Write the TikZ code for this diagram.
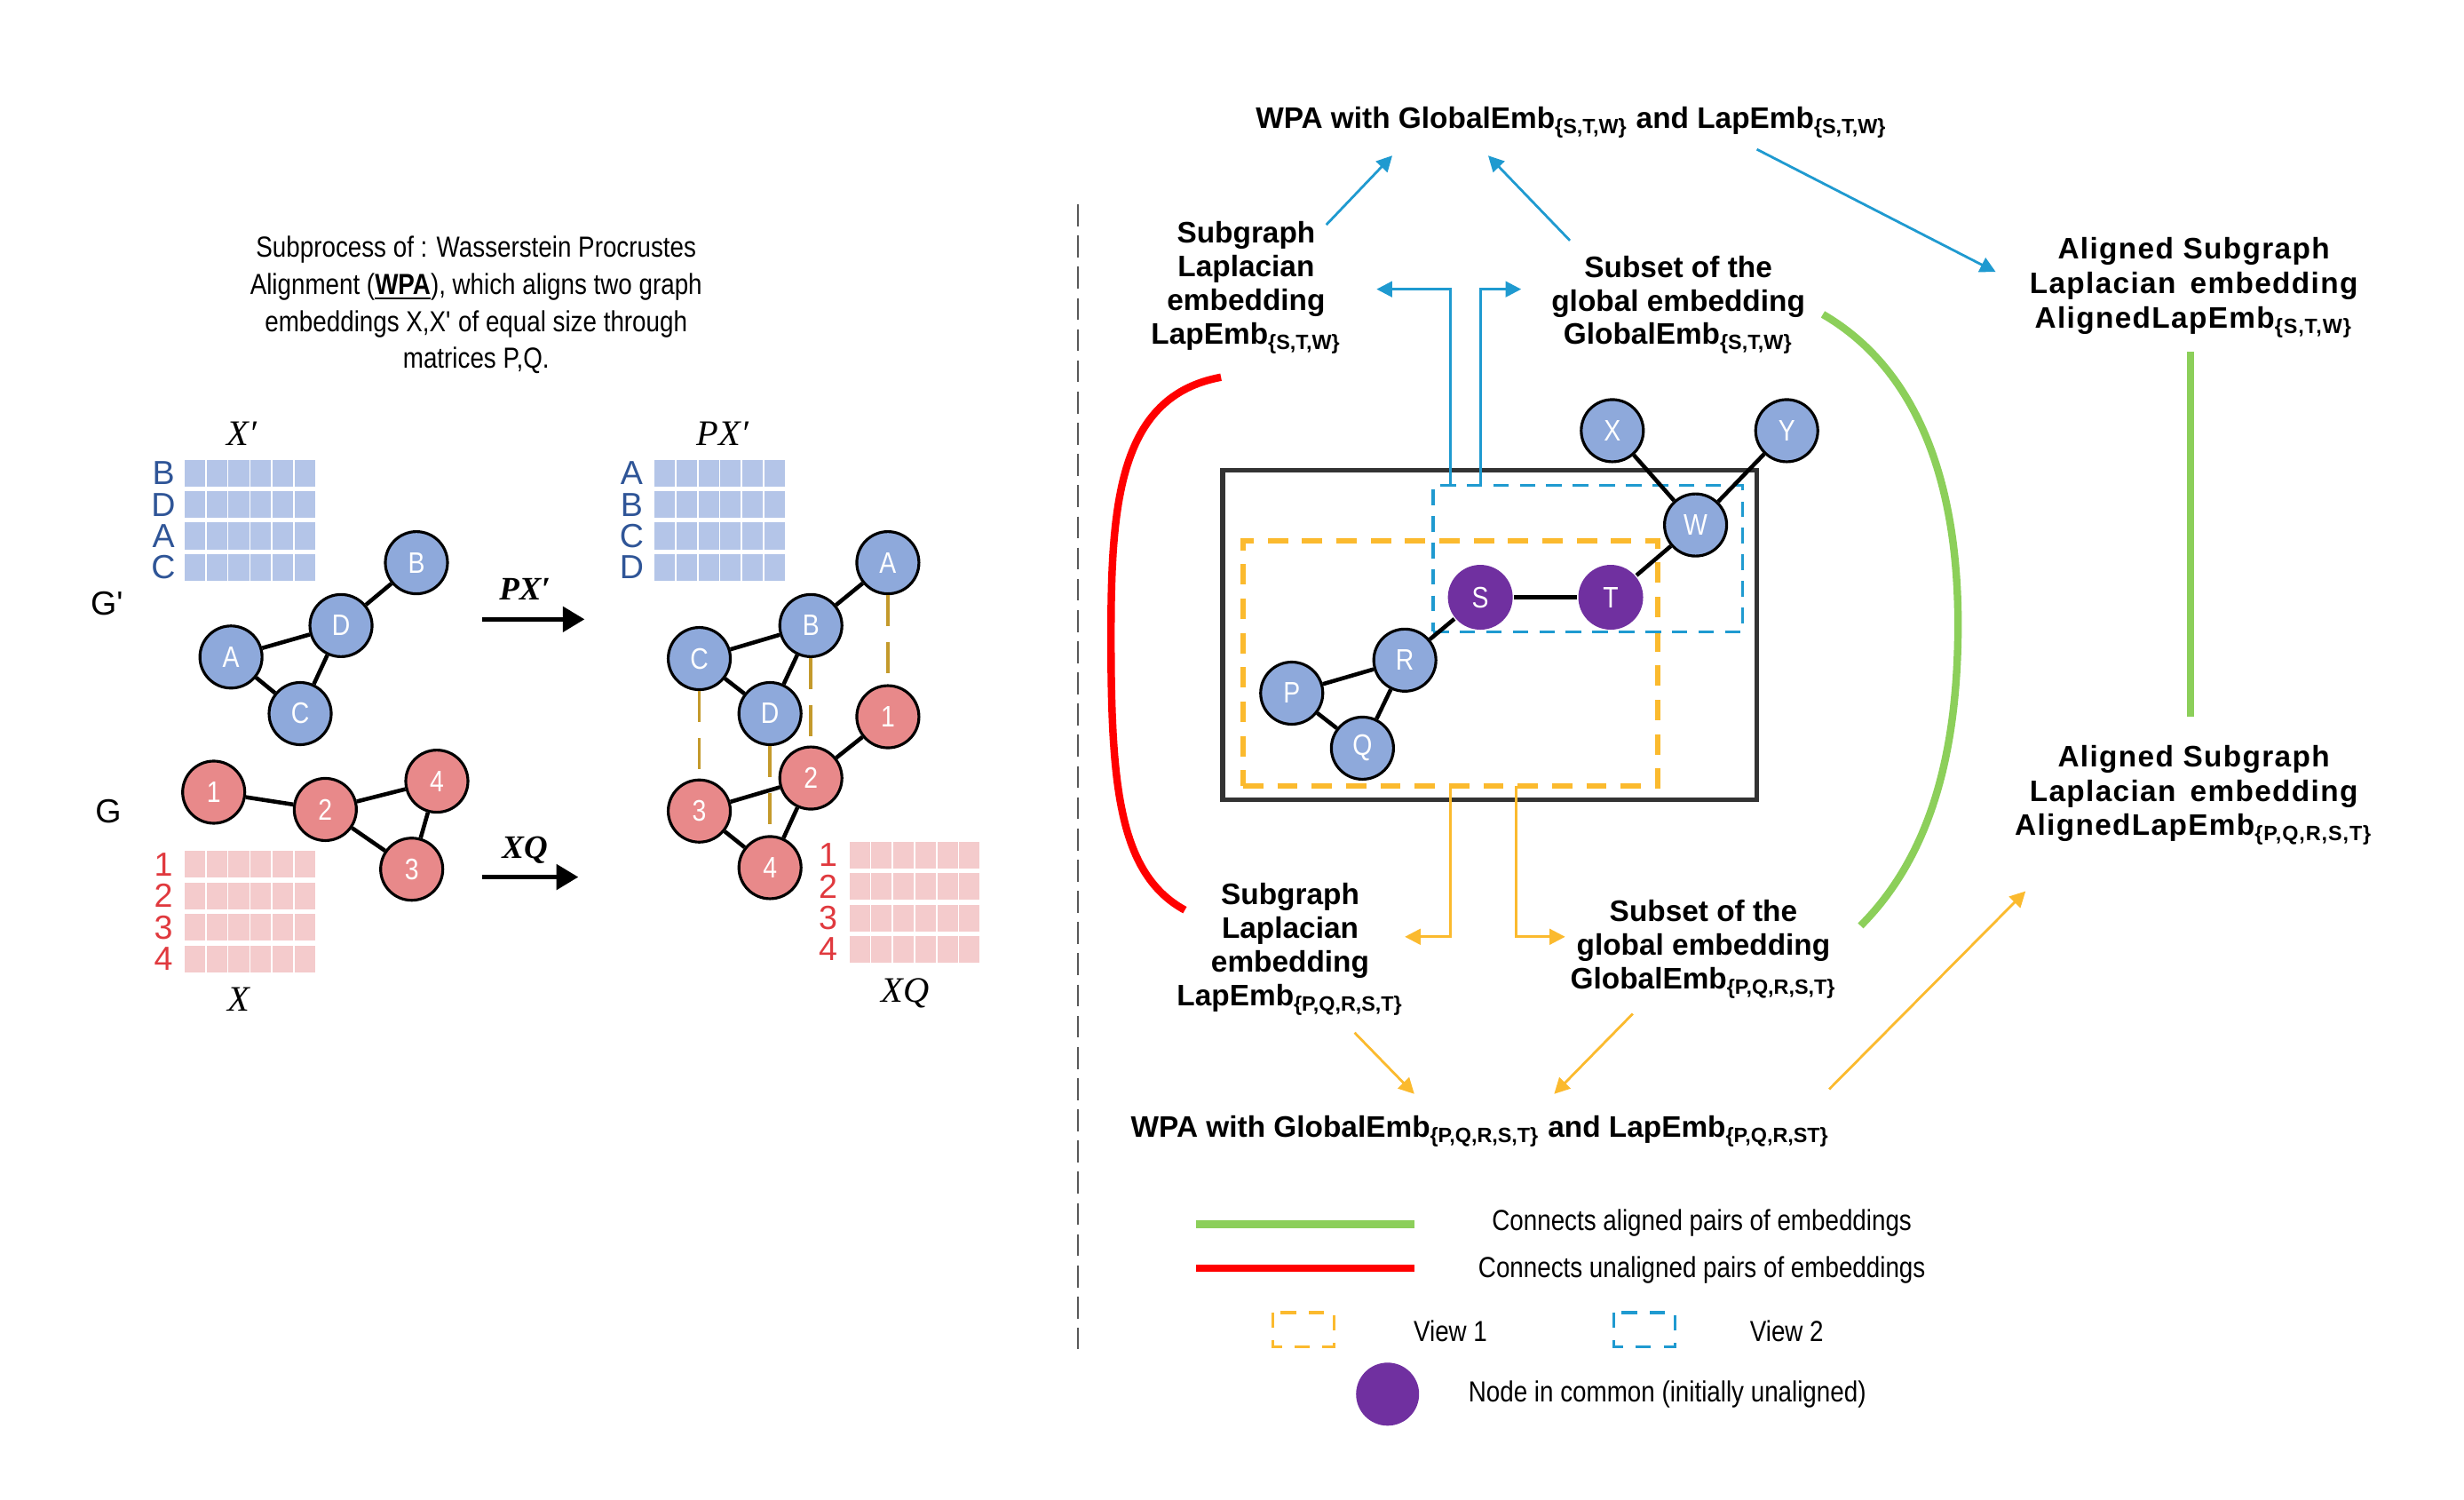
\documentclass[tikz,border=0pt]{standalone}
\usepackage{fontspec}
\setmainfont{Liberation Sans}
\newfontfamily\narrowfont[FakeStretch=0.85]{Liberation Sans}
\newfontfamily\spacedfont[LetterSpace=4]{Liberation Sans}
\newfontfamily\timesfont{Liberation Serif}
\usetikzlibrary{arrows.meta}

\definecolor{nodeblue}{HTML}{8EA9DB}
\definecolor{nodered}{HTML}{E8898A}
\definecolor{matblue}{HTML}{B4C5E8}
\definecolor{matred}{HTML}{F4CBCC}
\definecolor{lblblue}{HTML}{2F5597}
\definecolor{lblred}{HTML}{E0393E}
\definecolor{wpagold}{HTML}{C49A2C}
\definecolor{viewone}{HTML}{FBBA2E}
\definecolor{viewtwo}{HTML}{1F9AD0}
\definecolor{alignedgreen}{HTML}{8CCF5A}
\definecolor{unalignedred}{HTML}{FF0000}
\definecolor{commonpurple}{HTML}{7030A0}

\newcommand{\nodelabelfont}{\narrowfont\fontsize{9.5}{10}\selectfont}
\newcommand{\embmatrix}[3]{%
  \foreach \row in {0,...,3}
    \foreach \col in {0,...,5}
      \filldraw[fill=#3, draw=white, line width=0.5pt] ({#1+14*\col},{#2+20*\row}) rectangle +(14,18);}

\begin{document}
\begin{tikzpicture}[x=0.017698cm, y=-0.017698cm,
  bnode/.style={circle, draw, line width=0.9pt, fill=nodeblue, text=white,
    minimum size=0.7cm, inner sep=0pt, font=\nodelabelfont},
  rnode/.style={bnode, fill=nodered},
  cnode/.style={bnode, draw=none, fill=commonpurple, minimum size=0.73cm},
  link/.style={line width=1.3pt},
  pairlink/.style={wpagold, line width=1pt, dash pattern=on 10pt off 5pt},
  rowlbl/.style={inner sep=0pt, font=\fontsize{10.7}{11}\selectfont},
  matlbl/.style={inner sep=0pt, font=\timesfont\itshape\fontsize{11.5}{12}\selectfont},
  arrlbl/.style={inner sep=0pt, font=\timesfont\bfseries\itshape\fontsize{10.5}{11}\selectfont},
  bigarrow/.style={-{Triangle[length=7pt,width=8pt]}, line width=1.4pt},
  plain/.style={inner sep=0pt, font=\narrowfont\fontsize{9.3}{11.9}\selectfont},
  embtext/.style={align=center, inner sep=0pt, font=\bfseries\fontsize{9.5}{10.8}\selectfont},
  alignedtext/.style={align=center, inner sep=0pt, font=\spacedfont\bfseries\fontsize{9.5}{11}\selectfont},
  bluearrow/.style={viewtwo, line width=0.8pt, -{Triangle[length=5pt,width=5pt]}},
  orangearrow/.style={viewone, line width=0.8pt, -{Triangle[length=5pt,width=5pt]}},
  viewonebox/.style={draw=viewone, line width=1.6pt, dash pattern=on 6.5pt off 4.5pt,
    inner sep=0pt},
  viewtwobox/.style={draw=viewtwo, line width=0.9pt, dash pattern=on 5pt off 3.5pt,
    inner sep=0pt},
  thickline/.style={line width=2.4pt, line cap=butt}]

  \useasboundingbox (0,0) rectangle (1568,954);

  \node[plain, align=center] (desc) at (303,194)
    {Subprocess of : Wasserstein Procrustes\\
     Alignment (\underline{\textbf{WPA}}), which aligns two graph\\
     embeddings X,X\textquotesingle{} of equal size through\\
     matrices P,Q.};

  \embmatrix{117}{292}{matblue}
  \embmatrix{416}{292}{matblue}
  \embmatrix{117}{541}{matred}
  \embmatrix{540}{535}{matred}

  \node[matlbl] (xplbl) at (154,276) {X′};
  \node[matlbl] (pxplbl) at (460,276) {PX′};
  \node[matlbl] (xlbl) at (152,636) {X};
  \node[matlbl] (xqlbl) at (576,632) {XQ};

  \node[rowlbl, lblblue] (xpB) at (104,301) {B};
  \node[rowlbl, lblblue] (xpD) at (104,321) {D};
  \node[rowlbl, lblblue] (xpA) at (104,341) {A};
  \node[rowlbl, lblblue] (xpC) at (104,361) {C};
  \node[rowlbl, lblblue] (pxpA) at (402,301) {A};
  \node[rowlbl, lblblue] (pxpB) at (402,321) {B};
  \node[rowlbl, lblblue] (pxpC) at (402,341) {C};
  \node[rowlbl, lblblue] (pxpD) at (402,361) {D};
  \node[rowlbl, lblred] (x1) at (104,550) {1};
  \node[rowlbl, lblred] (x2) at (104,570) {2};
  \node[rowlbl, lblred] (x3) at (104,590) {3};
  \node[rowlbl, lblred] (x4) at (104,610) {4};
  \node[rowlbl, lblred] (xq1) at (527,544) {1};
  \node[rowlbl, lblred] (xq2) at (527,564) {2};
  \node[rowlbl, lblred] (xq3) at (527,584) {3};
  \node[rowlbl, lblred] (xq4) at (527,604) {4};

  \node[rowlbl] (gplbl) at (68,384) {G\textquotesingle};
  \node[rowlbl] (glbl) at (69,516) {G};

  \node[bnode] (gA) at (147,418) {A};
  \node[bnode] (gD) at (217,398) {D};
  \node[bnode] (gB) at (265,358) {B};
  \node[bnode] (gC) at (191,454) {C};
  \draw[link] (gA) -- (gD);
  \draw[link] (gD) -- (gB);
  \draw[link] (gA) -- (gC);
  \draw[link] (gC) -- (gD);

  \node[rnode] (g1) at (136,504) {1};
  \node[rnode] (g2) at (207,515) {2};
  \node[rnode] (g4) at (278,497) {4};
  \node[rnode] (g3) at (262,553) {3};
  \draw[link] (g1) -- (g2);
  \draw[link] (g2) -- (g4);
  \draw[link] (g4) -- (g3);
  \draw[link] (g2) -- (g3);

  \coordinate (pxfrom) at (307,394);
  \coordinate (pxto) at (372,394);
  \coordinate (xqfrom) at (307,558);
  \coordinate (xqto) at (368,558);
  \draw[bigarrow] (pxfrom) -- (pxto);
  \draw[bigarrow] (xqfrom) -- (xqto);
  \node[arrlbl] (pxarr) at (334,375) {PX′};
  \node[arrlbl] (xqarr) at (334,541) {XQ};

  \node[bnode] (rA) at (565,358) {A};
  \node[bnode] (rB) at (516,398) {B};
  \node[bnode] (rC) at (445,419) {C};
  \node[bnode] (rD) at (490,454) {D};
  \node[rnode] (r1) at (565,456) {1};
  \node[rnode] (r2) at (516,495) {2};
  \node[rnode] (r3) at (445,516) {3};
  \node[rnode] (r4) at (490,552) {4};
  \draw[pairlink] (rA) -- (r1);
  \draw[pairlink] (rB) -- (r2);
  \draw[pairlink] (rC) -- (r3);
  \draw[pairlink] (rD) -- (r4);
  \draw[link] (rB) -- (rA);
  \draw[link] (rC) -- (rB);
  \draw[link] (rC) -- (rD);
  \draw[link] (rD) -- (rB);
  \draw[link] (r1) -- (r2);
  \draw[link] (r2) -- (r3);
  \draw[link] (r3) -- (r4);
  \draw[link] (r4) -- (r2);

  \draw[gray!70!black, line width=0.8pt, dash pattern=on 7pt off 3pt] (686,130) -- (686,858);

  \node[embtext] (wpastw) at (1000,78)
    {WPA with GlobalEmb\textsubscript{\{S,T,W\}} and LapEmb\textsubscript{\{S,T,W\}}};
  \node[embtext] (lapstw) at (793,183)
    {Subgraph\\Laplacian\\embedding\\LapEmb\textsubscript{\{S,T,W\}}};
  \node[embtext] (globstw) at (1068,194)
    {Subset of the\\global embedding\\GlobalEmb\textsubscript{\{S,T,W\}}};
  \node[alignedtext] (alstw) at (1396,183)
    {Aligned Subgraph\\Laplacian\, embedding\\AlignedLapEmb\textsubscript{\{S,T,W\}}};
  \node[alignedtext] (alpqrst) at (1396,506)
    {Aligned Subgraph\\Laplacian\, embedding\\AlignedLapEmb\textsubscript{\{P,Q,R,S,T\}}};
  \node[embtext] (lappqrst) at (821,604)
    {Subgraph\\Laplacian\\embedding\\LapEmb\textsubscript{\{P,Q,R,S,T\}}};
  \node[embtext] (globpqrst) at (1084,604)
    {Subset of the\\global embedding\\GlobalEmb\textsubscript{\{P,Q,R,S,T\}}};
  \node[embtext] (wpapqrst) at (942,720)
    {WPA with GlobalEmb\textsubscript{\{P,Q,R,S,T\}} and LapEmb\textsubscript{\{P,Q,R,ST\}}};

  \node[draw=black!80, line width=1.5pt, minimum width=6.017cm, minimum height=3.717cm,
    inner sep=0pt] (frame) at (948,404) {};
  \node[viewonebox, minimum width=4.672cm, minimum height=2.761cm] (view1) at (923,422) {};
  \node[viewtwobox, minimum width=3.487cm, minimum height=1.646cm] (view2) at (1010.5,355.5) {};

  \node[bnode] (X) at (1026,274) {X};
  \node[bnode] (Y) at (1137,274) {Y};
  \node[bnode] (W) at (1079,334) {W};
  \node[cnode] (S) at (942,380) {S};
  \node[cnode] (T) at (1025,380) {T};
  \node[bnode] (R) at (894,420) {R};
  \node[bnode] (P) at (822,441) {P};
  \node[bnode] (Q) at (867,476) {Q};
  \draw[link] (X) -- (W);
  \draw[link] (Y) -- (W);
  \draw[link] (W) -- (T);
  \draw[link] (S) -- (T);
  \draw[link] (S) -- (R);
  \draw[link] (R) -- (P);
  \draw[link] (R) -- (Q);
  \draw[link] (P) -- (Q);

  \coordinate (v2left) at (923,309);
  \coordinate (v2right) at (942,309);
  \coordinate (lapstwin) at (876,184);
  \coordinate (globstwin) at (968,184);
  \draw[bluearrow] (v2left) |- (lapstwin);
  \draw[bluearrow] (v2right) |- (globstwin);

  \coordinate (v1left) at (923,500);
  \coordinate (v1right) at (965,500);
  \coordinate (lappqrstin) at (894,596);
  \coordinate (globpqrstin) at (996,596);
  \draw[orangearrow] (v1left) |- (lappqrstin);
  \draw[orangearrow] (v1right) |- (globpqrstin);

  \coordinate (lapstwout) at (844,143);
  \coordinate (wpastwinl) at (886,99);
  \coordinate (globstwout) at (999,153);
  \coordinate (wpastwinr) at (947,99);
  \coordinate (wpastwout) at (1118,95);
  \coordinate (alstwin) at (1270,173);
  \draw[bluearrow] (lapstwout) -- (wpastwinl);
  \draw[bluearrow] (globstwout) -- (wpastwinr);
  \draw[bluearrow] (wpastwout) -- (alstwin);

  \coordinate (lappqrstout) at (862,657);
  \coordinate (wpapqrstinl) at (900,696);
  \coordinate (globpqrstout) at (1039,645);
  \coordinate (wpapqrstinr) at (989,696);
  \coordinate (wpapqrstout) at (1164,693);
  \coordinate (alpqrstin) at (1289,567);
  \draw[orangearrow] (lappqrstout) -- (wpapqrstinl);
  \draw[orangearrow] (globpqrstout) -- (wpapqrstinr);
  \draw[orangearrow] (wpapqrstout) -- (alpqrstin);

  \coordinate (redtop) at (777,240);
  \coordinate (redbot) at (754,579);
  \draw[thickline, unalignedred] (redtop) .. controls (712,252) and (707,320) .. (707,405)
    .. controls (707,500) and (712,556) .. (redbot);
  \coordinate (greentop) at (1160,200);
  \coordinate (greenbot) at (1184,589);
  \draw[thickline, alignedgreen] (greentop) .. controls (1222,236) and (1246,310) .. (1246,397)
    .. controls (1246,480) and (1228,545) .. (greenbot);
  \coordinate (alstwout) at (1394,224);
  \coordinate (alpqrstout) at (1394,456);
  \draw[thickline, alignedgreen] (alstwout) -- (alpqrstout);

  \draw[thickline, alignedgreen] (761,779) -- (900,779);
  \node[plain] (legaligned) at (1083,778) {Connects aligned pairs of embeddings};
  \draw[thickline, unalignedred] (761,807) -- (900,807);
  \node[plain] (legunaligned) at (1083,808) {Connects unaligned pairs of embeddings};
  \draw[viewone, line width=1pt, dash pattern=on 5pt off 4pt] (810,835) rectangle (849,857);
  \node[plain] (legview1) at (923,847) {View 1};
  \draw[viewtwo, line width=1pt, dash pattern=on 5pt off 4pt] (1027,835) rectangle (1066,857);
  \node[plain] (legview2) at (1137,847) {View 2};
  \node[cnode, minimum size=0.71cm] (legcommon) at (883,887) {};
  \node[plain] (legcommontext) at (1061,887) {Node in common (initially unaligned)};
\end{tikzpicture}
\end{document}
